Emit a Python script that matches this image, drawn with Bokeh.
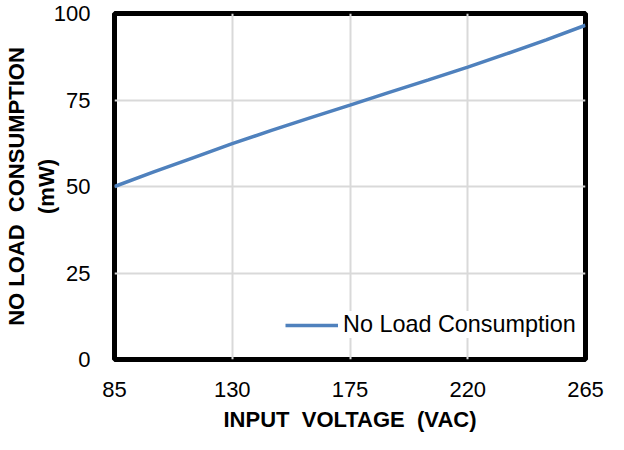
from bokeh.plotting import figure
from bokeh.models import Range1d, FixedTicker, Legend, LegendItem
from bokeh.embed import file_html
from bokeh.resources import INLINE

voltage = [85, 100, 115, 130, 145, 160, 175, 190, 205, 220, 235, 250, 265]
consumption = [50.0, 54.2, 58.3, 62.4, 66.2, 69.9, 73.5, 77.2, 80.8, 84.5, 88.4, 92.4, 96.6]
x_ticks = [85, 130, 175, 220, 265]
y_ticks = [0, 25, 50, 75, 100]

FONT = "Liberation Sans"
NB = "\u00a0"

p = figure(width=608, height=434, output_backend="svg", toolbar_location=None,
           x_range=Range1d(85, 265), y_range=Range1d(0, 100),
           min_border_left=114, min_border_right=23, min_border_top=13, min_border_bottom=74)
p.background_fill_color = "white"
p.border_fill_color = "white"
p.outline_line_color = "black"
p.outline_line_width = 5

for ax in (p.xaxis[0], p.yaxis[0]):
    ax.axis_line_color = None
    ax.major_tick_line_color = None
    ax.minor_tick_line_color = None
    ax.major_label_text_font = FONT
    ax.major_label_text_font_size = "22px"
    ax.major_label_text_color = "black"
    ax.axis_label_text_font = FONT
    ax.axis_label_text_font_size = "22px"
    ax.axis_label_text_font_style = "bold"
    ax.axis_label_text_color = "black"

p.xaxis.ticker = FixedTicker(ticks=x_ticks)
p.yaxis.ticker = FixedTicker(ticks=y_ticks)
p.xaxis.major_label_standoff = 16
p.yaxis.major_label_standoff = 18
p.xaxis.axis_label = "INPUT" + NB + NB + "VOLTAGE" + NB + NB + "(VAC)"
p.yaxis.axis_label = "NO LOAD" + NB + NB + "CONSUMPTION\n(mW)"
p.xaxis.axis_label_standoff = 7
p.yaxis.axis_label_standoff = -8

p.xgrid.ticker = FixedTicker(ticks=x_ticks)
p.ygrid.ticker = FixedTicker(ticks=y_ticks)
p.grid.grid_line_color = "#d9d9d9"
p.grid.grid_line_width = 2

r = p.line(voltage, consumption, line_color="#4f81bd", line_width=3.5)

legend = Legend(items=[LegendItem(label="No Load Consumption", renderers=[r])],
                location=(171, 21), orientation="vertical")
legend.background_fill_color = "white"
legend.background_fill_alpha = 1
legend.border_line_color = None
legend.label_text_font = FONT
legend.label_text_font_size = "23.4px"
legend.label_text_color = "black"
legend.glyph_width = 53
legend.glyph_height = 24
legend.label_height = 24
legend.label_standoff = 5
legend.padding = 10
legend.margin = 0
p.add_layout(legend)

open("out.html", "w").write(file_html(p, INLINE))
